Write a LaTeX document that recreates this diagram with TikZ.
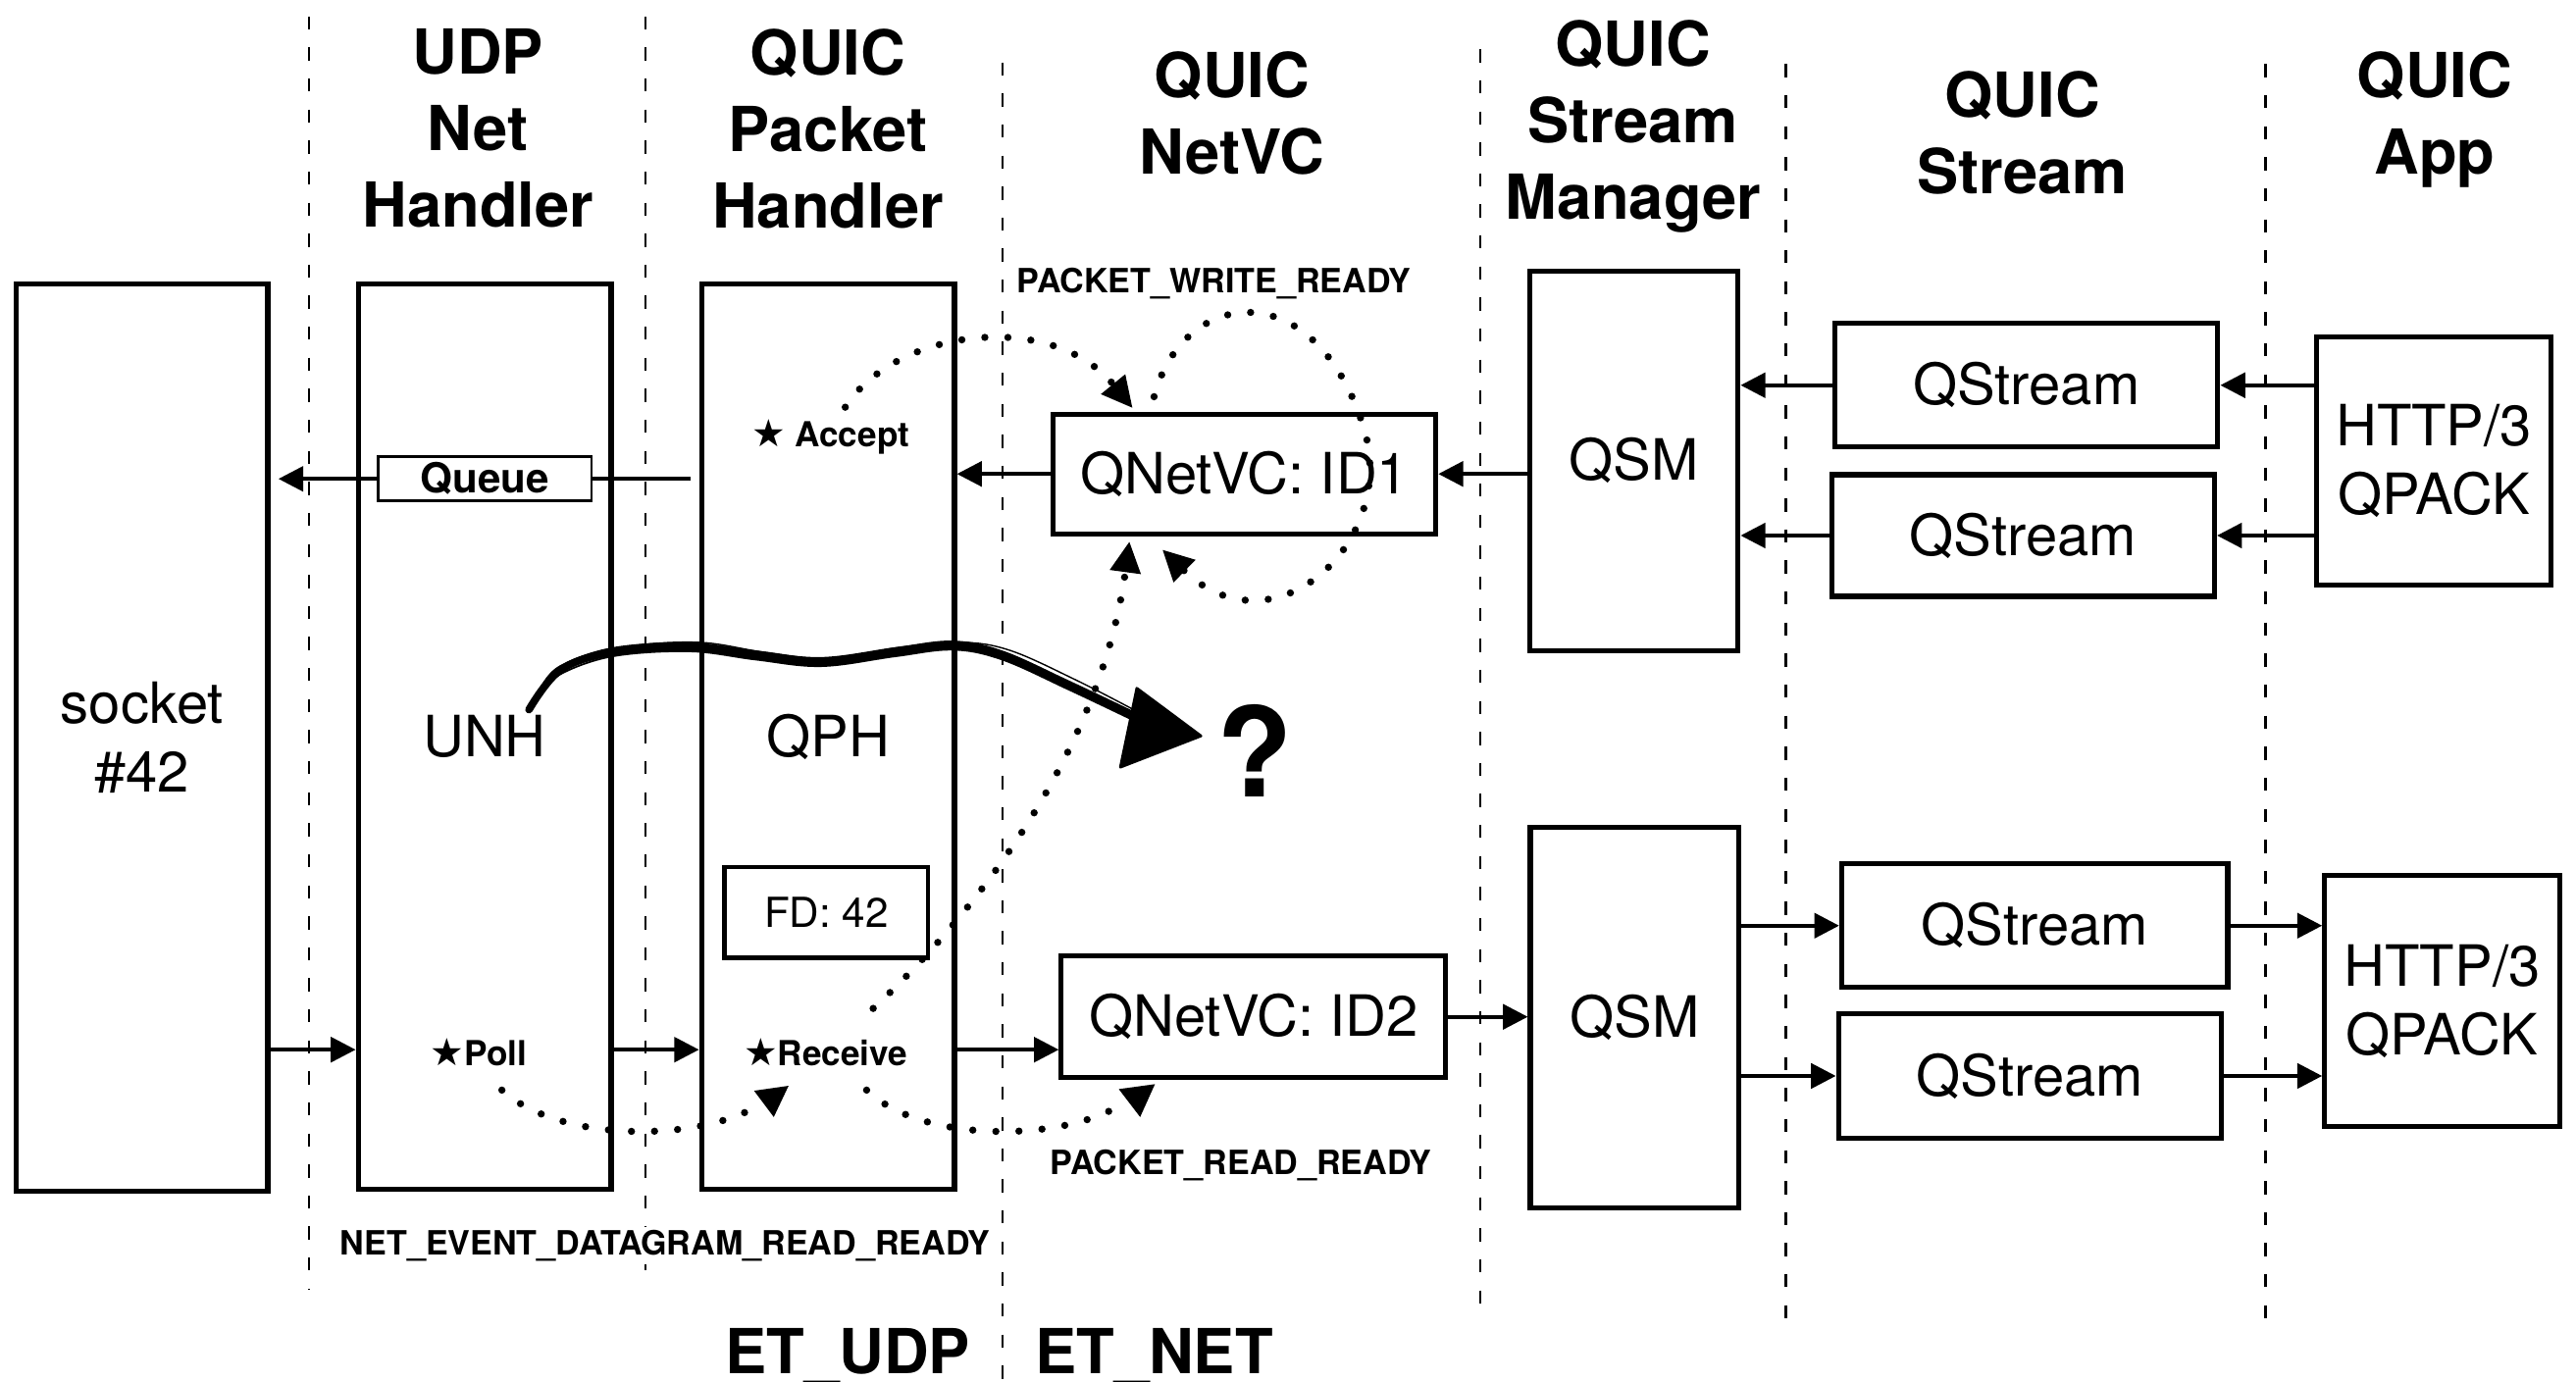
\documentclass[tikz,border=0pt]{standalone}
\usepackage{fontspec}
\setmainfont{TeX Gyre Heros}
\newfontfamily\starfont{DejaVu Sans}
\usetikzlibrary{arrows.meta,calc}
\newlength{\pxu}\setlength{\pxu}{0.16747mm}
\newcommand{\bstar}{{\starfont\fontsize{11}{11}\selectfont ★}}

\begin{document}
\begin{tikzpicture}[x=0.16747mm,y=-0.16747mm,
    lane/.style={line width=0.6pt,dash pattern=on 3.8pt off 5.2pt},
    lanehead/.style={anchor=north,inner sep=0pt,align=center,font=\fontsize{18}{22.2}\selectfont\bfseries},
    blk/.style={draw,line width=1.45pt,inner sep=0pt,align=center,font=\fontsize{16.5}{20}\selectfont},
    tag/.style={anchor=base,inner sep=0pt,font=\fontsize{10}{12}\selectfont\bfseries},
    event/.style={anchor=base,inner sep=0pt,font=\fontsize{9.7}{11}\selectfont\bfseries},
    arr/.style={line width=1.1pt,-{Triangle[length=7.2pt,width=7.2pt]}},
    dotline/.style={line width=2.1pt,line cap=round,dash pattern=on 0pt off 6.7pt},
    dotarr/.style={dotline,-{Triangle[length=9pt,width=8.5pt]}},
    sketch/.style={line width=2.2pt,line cap=round}]
    \fill[white] (0,0) rectangle (1568,841);
    \useasboundingbox (0,0) rectangle (1568,841);
    % lanes
    \draw[lane] (188,10) -- (188,785);\draw[lane] (393,10) -- (393,783);
    \draw[lane] (610,38) -- (610,841);\draw[lane] (901,30) -- (901,803);
    \draw[lane] (1087,39) -- (1087,811);\draw[lane] (1379,39) -- (1379,811);
    \node[lanehead] (h1) at (291,17) {UDP\\Net\\Handler};
    \node[lanehead] (h2) at (504,17) {QUIC\\Packet\\Handler};
    \node[lanehead] (h3) at (750,31) {QUIC\\NetVC};
    \node[lanehead] (h4) at (994,12) {QUIC\\Stream\\Manager};
    \node[lanehead] (h5) at (1231,43) {QUIC\\Stream};
    \node[lanehead] (h6) at (1482,31) {QUIC\\App};
    % blocks
    \node[blk,minimum width=153\pxu,minimum height=552\pxu] (sock) at (86.5,449) {socket\\\#42};
    \node[blk,minimum width=154\pxu,minimum height=551\pxu] (unh) at (295,448.5) {UNH};
    \node[blk,minimum width=154\pxu,minimum height=551\pxu] (qph) at (504,448.5) {QPH};
    \node[blk,minimum width=233\pxu,minimum height=73\pxu] (id1) at (757.5,288.5) {QNetVC: ID1};
    \node[blk,minimum width=234\pxu,minimum height=74\pxu] (id2) at (763,619) {QNetVC: ID2};
    \node[blk,minimum width=127\pxu,minimum height=231\pxu] (qsm1) at (994.5,280.5) {QSM};
    \node[blk,minimum width=127\pxu,minimum height=232\pxu] (qsm2) at (995,619.5) {QSM};
    \node[blk,minimum width=233\pxu,minimum height=75\pxu] (qs1) at (1233.5,234.5) {QStream};
    \node[blk,minimum width=233\pxu,minimum height=74\pxu] (qs2) at (1231.5,326) {QStream};
    \node[blk,minimum width=235\pxu,minimum height=75\pxu] (qs3) at (1238.5,563.5) {QStream};
    \node[blk,minimum width=233\pxu,minimum height=76\pxu] (qs4) at (1235.5,655) {QStream};
    \node[blk,minimum width=143\pxu,minimum height=151\pxu] (app1) at (1481.5,280.5) {HTTP/3\\QPACK};
    \node[blk,minimum width=143\pxu,minimum height=153\pxu] (app2) at (1486.5,609.5) {HTTP/3\\QPACK};
    \node[draw,line width=1.2pt,inner sep=0pt,minimum width=124\pxu,minimum height=55\pxu,font=\fontsize{12}{14}\selectfont] (fd) at (503,555.5) {FD: 42};
    \node[draw,fill=white,line width=0.8pt,inner sep=0pt,minimum width=130\pxu,minimum height=27\pxu,font=\fontsize{12}{14}\selectfont\bfseries] (queue) at (295,291.5) {Queue};
    \node[tag] (accept) at (505.5,272) {\bstar\ Accept};
    \node[tag] (poll) at (291.5,649) {\bstar Poll};
    \node[tag] (recv) at (502.5,649) {\bstar Receive};
    \coordinate (rx) at (0,639);
    % solid arrows
    \draw[line width=1.1pt] ($(qph.west |- queue)+(-5,0)$) -- (queue.east);
    \draw[arr,shorten >=5\pxu] (queue.west) -- (sock.east |- queue);
    \draw[arr] (id1.west) -- (qph.east |- id1);
    \draw[arr] (qsm1.west |- id1) -- (id1.east);
    \draw[arr] (qs1.west) -- (qsm1.east |- qs1);
    \draw[arr] (qs2.west) -- (qsm1.east |- qs2);
    \draw[arr] (app1.west |- qs1) -- (qs1.east);
    \draw[arr] (app1.west |- qs2) -- (qs2.east);
    \draw[arr] (sock.east |- rx) -- (unh.west |- rx);
    \draw[arr] (unh.east |- rx) -- (qph.west |- rx);
    \draw[arr] (qph.east |- rx) -- (id2.west |- rx);
    \draw[arr] (id2.east) -- (qsm2.west |- id2);
    \draw[arr] (qsm2.east |- qs3) -- (qs3.west);
    \draw[arr] (qsm2.east |- qs4) -- (qs4.west);
    \draw[arr] (qs3.east) -- (app2.west |- qs3);
    \draw[arr] (qs4.east) -- (app2.west |- qs4);
    % events
    \node[event] (wr) at (739,178.5) {PACKET\_WRITE\_READY};
    \node[event] (rr) at (755.5,715) {PACKET\_READ\_READY};
    \node[event,fill=white,inner sep=1pt] (dg) at (405,764) {NET\_EVENT\_DATAGRAM\_READ\_READY};
    \node[anchor=base,inner sep=0pt,font=\fontsize{18}{22}\selectfont\bfseries] (etudp) at (516,836) {ET\_UDP};
    \node[anchor=base,inner sep=0pt,font=\fontsize{18}{22}\selectfont\bfseries] (etnet) at (702.5,836) {ET\_NET};
    % dotted callbacks
    \draw[dotarr] ($(accept.north)+(9,-7)$) .. controls (545,200) and (640,188) .. ($(id1.north west)+(50,-2)$);
    \draw[dotarr] ($(id1.north west)+(63,-9)$) .. controls (720,175) and (800,165) .. (830,260) .. controls (852,330) and (775,400) .. ($(id1.south west)+(68,8)$);
    \draw[dotarr] ($(recv.north)+(29,-18)$) .. controls (590,560) and (670,460) .. ($(id1.south west)+(48,3)$);
    \draw[dotline] ($(poll.south)+(14,14)$) .. controls (340,695) and (420,695) .. (458,675);
    \fill (459,664) -- (480,661) -- (471,680) -- cycle;
    \draw[dotline] ($(recv.south)+(25,14)$) .. controls (560,695) and (640,695) .. (678,675);
    \fill (681,663) -- (703,660) -- (694,680) -- cycle;
    % hand drawn arrow
    \node[inner sep=0pt,font=\fontsize{36}{40}\selectfont\bfseries] (ask) at (764,457) {?};
    \draw[sketch] plot[smooth,tension=0.6] coordinates {(322,432) (341,408) (373,397) (420,394) (460,399) (500,403) (545,397) (580,393) (610,399) (650,417) (690,436)};
    \foreach \s in {-2.5,2.5}
      \draw[line width=0.5pt,shift={(0,\s)}] plot[smooth,tension=0.6] coordinates {(330,420) (341,408) (373,397) (420,394) (460,399) (500,403) (545,397) (580,393) (610,399) (650,417) (690,436)};
    \draw[line width=0.4pt] plot[smooth,tension=0.6] coordinates {(325,430) (343,405) (380,394) (425,391) (465,397) (505,401) (548,394) (585,391) (615,396) (655,414) (690,432)};
    \filldraw[line width=0.8pt,line join=round] (692,419) -- (682,467) -- (731,448) -- cycle;
\end{tikzpicture}
\end{document}
